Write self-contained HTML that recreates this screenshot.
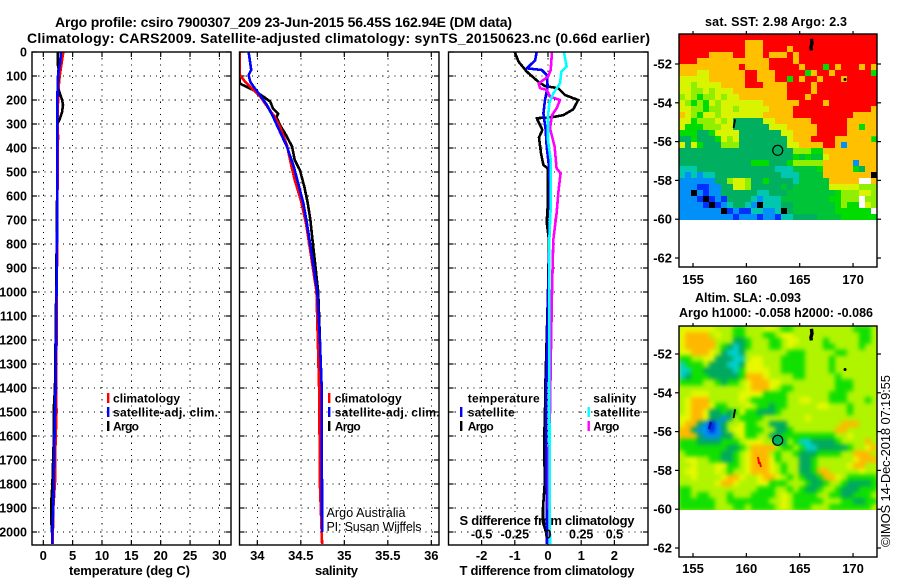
<!DOCTYPE html>
<html>
<head>
<meta charset="utf-8">
<title>Argo profile</title>
<style>
html,body{margin:0;padding:0;background:#fff;}
svg{display:block;font-family:"Liberation Sans",sans-serif;}
text{fill:#000;}
</style>
</head>
<body>
<svg id="chart" xmlns="http://www.w3.org/2000/svg" width="900" height="580" viewBox="0 0 900 580">
<defs>
<clipPath id="clip-sst"><rect x="679" y="34" width="198" height="186"/></clipPath>
<clipPath id="clip-sla"><rect x="679" y="326" width="198" height="184"/></clipPath>
<clipPath id="clip-p1"><rect x="32" y="52" width="199" height="493"/></clipPath>
<clipPath id="clip-p2"><rect x="239.500" y="52" width="199.500" height="493"/></clipPath>
<clipPath id="clip-p3"><rect x="448.500" y="52" width="199.500" height="493"/></clipPath>
<filter id="sla-blur" x="-5%" y="-5%" width="110%" height="110%" color-interpolation-filters="sRGB"><feGaussianBlur stdDeviation="2"/></filter>
</defs>
<text x="55" y="27" font-size="14" font-weight="bold" textLength="457">Argo profile: csiro 7900307_209 23-Jun-2015 56.45S 162.94E (DM data)</text>
<text x="27" y="43" font-size="14" font-weight="bold" textLength="623">Climatology: CARS2009. Satellite-adjusted climatology: synTS_20150623.nc (0.66d earlier)</text>
<text x="69" y="575" font-size="13" font-weight="bold" textLength="121">temperature (deg C)</text>
<text x="315" y="575" font-size="13" font-weight="bold" textLength="43">salinity</text>
<text x="459.500" y="575" font-size="13" font-weight="bold" textLength="175">T difference from climatology</text>
<text x="459.500" y="525" font-size="13" font-weight="bold" textLength="175">S difference from climatology</text>
<text x="705" y="26" font-size="12.500" font-weight="bold" textLength="142">sat. SST: 2.98 Argo: 2.3</text>
<text x="695" y="302" font-size="12.500" font-weight="bold" textLength="106">Altim. SLA: -0.093</text>
<text x="679" y="317" font-size="12.500" font-weight="bold" textLength="194">Argo h1000: -0.058 h2000: -0.086</text>
<text transform="translate(890,547) rotate(-90)" font-size="13" textLength="172">©IMOS 14-Dec-2018 07:19:55</text>
<text x="326.500" y="517" font-size="12.500" fill="#222" textLength="79">Argo Australia</text>
<text x="326.500" y="531" font-size="12.500" fill="#222" textLength="95">PI: Susan Wijffels</text>
</svg>
<script>
// ---------- axis tick values ----------
var depthTicks = [0,100,200,300,400,500,600,700,800,900,1000,1100,1200,1300,1400,1500,1600,1700,1800,1900,2000];
var tempTicks = [0,5,10,15,20,25,30];
var salTicks = [34,34.5,35,35.5,36];
var salTickLabels = ['34','34.5','35','35.5','36'];
var tDiffTicks = [-2,-1,0,1,2];
var sDiffTicks = [-0.5,-0.25,0,0.25,0.5];
var sDiffLabels = ['-0.5','-0.25','0','0.25','0.5'];
var lonTicks = [155,160,165,170];
var latTicks = [-52,-54,-56,-58,-60,-62];

// ---------- temperature panel ----------
var tempClimDepth = [0,50,100,150,200,300,350,600,1000,1400,1500,1540,1700,1790,1900,2050];
var tempClim = [3.4,3.1,2.8,2.6,2.5,2.45,2.5,2.4,2.3,2.2,2.25,2.2,2.0,2.0,1.7,1.6];
var tempSatDepth = [0,40,70,100,130,200,300,600,1000,1400,1600,1900,2000,2050];
var tempSat = [3.0,2.9,2.7,2.5,2.45,2.4,2.4,2.4,2.25,2.1,1.9,1.7,1.55,1.55];
var tempArgoDepth = [0,50,70,150,170,200,220,250,280,300,600,1000,1400,1500,1600,1800,1880,1950,2000];
var tempArgo = [2.45,2.45,2.6,2.45,2.8,3.2,3.35,3.2,2.8,2.4,2.35,2.2,2.0,1.75,1.8,1.55,1.35,1.35,1.5];

// ---------- salinity panel ----------
var salClimDepth = [0,96,124,155,193,228,270,310,388,464,533,617,714,783,1000,1400,1450,1700,1800,2050];
var salClim = [33.8,33.8,33.86,33.95,34.05,34.115,34.2,34.26,34.34,34.385,34.43,34.5,34.56,34.59,34.68,34.71,34.71,34.72,34.72,34.745];
var salSatDepth = [0,47,75,96,124,151,179,221,269,332,394,478,547,631,714,783,1000,1200,1400,2000];
var salSat = [33.9,33.92,33.93,33.9,33.92,33.97,34.03,34.11,34.18,34.26,34.34,34.42,34.47,34.53,34.57,34.6,34.69,34.72,34.74,34.745];
var salArgoDepth = [0,130,135,158,186,207,235,258,270,304,339,394,450,492,561,631,700,769,900,1000,1100,1200,1400,2000];
var salArgo = [33.8,33.8,33.82,33.95,34.07,34.15,34.18,34.24,34.22,34.26,34.32,34.4,34.43,34.49,34.54,34.58,34.61,34.63,34.67,34.7,34.71,34.72,34.735,34.745];

// ---------- difference panel ----------
var dTempSatDepth = [0,35,68,75,96,144,200,256,325,394,478,575,786,1400,2050];
var dTempSat = [-0.34,-0.39,-0.64,-0.19,-0.04,-0.01,-0.09,-0.14,-0.07,-0.04,0.03,0.06,0.04,-0.05,-0.04];
var dTempArgoDepth = [0,40,82,124,142,151,179,200,239,263,272,276,325,356,422,471,485,644,708,786,1000,1400,1500,1600,1800,1900,1960,2000];
var dTempArgo = [-1.0,-0.89,-0.64,-0.29,-0.09,0.31,0.51,0.91,0.76,0.46,0.11,-0.34,-0.17,-0.27,-0.21,-0.14,-0.01,-0.01,-0.04,0.03,0,-0.08,-0.09,-0.11,-0.1,-0.15,-0.15,-0.06];
var dSalSatDepth = [0,61,82,131,172,214,269,367,450,575,644,786,1400,2050];
var dSalSat = [0.12,0.14,0.1,0.09,0.04,0.01,0,0,0.02,0.02,0.02,0.01,0.01,0.015];
var dSalArgoDepth = [0,75,103,131,151,158,186,200,235,263,318,394,485,505,575,672,783,1000,1300,1500,1700,2050];
var dSalArgo = [0.03,0.02,0,-0.07,-0.06,-0.01,0.015,0.09,0.065,0.03,0.015,0.05,0.065,0.095,0.08,0.065,0.04,0.03,0.02,0.015,0.005,0.01];

// ---------- map grids (one character per cell) ----------
var sstRows = [
"rrrrrrrrrrrrrrrrrrrrrrrrrrrrrrrrr",
"rrrrrrrrrrrooorrrrrrrrrrrrrrrrrrr",
"rrrrrrrrrrrooorrrrorrrrrrrrrrrrrr",
"rrrrroooorrooorooororrrrrrrrrrrrr",
"rrroooooooooooorrrrorrrrrrrrrrrrr",
"ooooooooooroooorrrrrorrrgrorrroro",
"oooyyoooooorrooorrrrrgorrorrrrrrg",
"yyyyyoooooorrooorrgrorrorrrorrrrr",
"yylyyyyoooorrroooorrrrorrrrrrrrrr",
"yyllylyyyooooooooorrrrorrrrrrrrrr",
"lylgllylyyoooooooorrrorrrrrrrrrrr",
"ylglgylyyyyyyyoooooorrrrorrrrrrrr",
"yyllgllyylyyyyyoooorrrrrrrrrrrrro",
"oylgyylyyyyyyyooooorrrrrrrrrrooooo",
"yyglllylytttttyyoooooorrrrrrooooo",
"yggglllyyttttttyyyooooorrrrroogoo",
"gggttgyyyytttttttyyoooorrrrrooooo",
"ttgtttgylyttttttttyooorrrroooooo",
"ytygtttlllttttttttyyoooorroboooooo",
"tttttttttttttttttttlllggooooooooo",
"tttttttttttttttttttgdgddyooooooooo",
"ttttttttttttgggtttgllllloooooboooo",
"ccctttttttttttttcccddddgooooogtoooo",
"cbcbcctttttttttttcccddddooooooooKoy",
"bbbbbbttlyylttgttttcdddddoooooWWoyy",
"bbbBBbbttyyltttttdtddddddyyyyylllyyl",
"bbKbBbbttttttcctttddddddddglllyyll",
"bbbBKBbBttttcbcccddddddddgglllWlll",
"bbbbBKBbcttcbKcccttdddddddglggWylgl",
"bbbbbbbKBbBBccbbcKtdddddddggggggWl",
"bbbbbbbbbBbbbBbbBccttttddddggggggl"
];
var slaRows = [
"yyyyyylllgglllyylggllllllllllgggl",
"yoooolyllgglllgglyylllllllllllggl",
"yooooolllttglllgglyyllllglllllggl",
"yooooolgtctglllgglylllllggllllgll",
"yyoooyltcctlllllllggglllllgglllll",
"ggllyytttcclyylllggggllllglllllll",
"cgggltttcctyyylllggggllllgllllll",
"ccggtttttcgyyyyllggggllllglllll",
"ctgggtttttgoooyllllgglllllgllllll",
"ggggllgtgglyoooyylllllllllggglll",
"lllllllllllyoooylgglllllllggglll",
"llyyylllllyyyygggglllllllggglll",
"lyooolllllylggggggllyylllggglllg",
"lyoooygglllylggtgglllllyylllgllll",
"lyooyttgtgyggtttglllllllllllgllll",
"yyooyttbtlgggglllllllylllllllll",
"yootbBbtllygglltttlllllllllooolll",
"ootbbBbtlyygggllttgllllllloolllll",
"oootbbbttlyggllttgggggggggllyllll",
"gggttttggglyyyllttlgccttttglllloll",
"ggggggggttgloooolgglgcctttttgllyoyl",
"lggggggttglyooolgllgtttggggllooolx",
"lyyllggttglyoooyglllttgllllllyooool",
"llylllyygglyoooylgllttglllllyooll",
"lyylllylgllyoooylgllttgoolllllyll",
"llyllllyooyllyooylglgttgooylgggggll",
"llllllyooylllyyggglllgttgllgttttgggl",
"gglllllllllllgggllglgttgllgtttgggl",
"gglgglllglllgggglylggggllggttgggl",
"ggggggllgggggggllylggggglllggttggl",
"gggggglllgglgggglylggglllgggggggl"
];

// ---------- track marks on the maps ----------
var trackLons = [166.1,166.15,166.05,166.1];
var trackLatsSst = [-50.7,-50.95,-51.15,-51.3];
var track2Lons = [158.8,158.95];
var track2LatsSst = [-55.3,-54.85];

// ---------- colours ----------
var sstPalette = {r:'#ff0000',o:'#ffc000',y:'#d8f400',l:'#90ee00',g:'#00dc00',d:'#00c438',t:'#00b060',c:'#00c8b0',b:'#0090f8',B:'#0030ff',K:'#000000',W:'#ffffff'};
var slaPalette = {o:'#ffb800',y:'#e8f800',l:'#b0f400',g:'#10e000',t:'#00a860',c:'#00d0d0',b:'#0090f0',B:'#0020e0',r:'#ff2000',x:'#b0f400'};

// ---------- scales ----------
var depthY = function(d){ return 52 + d * 0.24; };
var tempX = function(v){ return 43.3 + v * 5.87; };
var salX = function(v){ return 257.3 + (v - 34) * 87; };
var tDiffX = function(v){ return 548 + v * 33.2; };
var sDiffX = function(v){ return 548 + v * 132.8; };
var lonX = function(v){ return 693 + (v - 155) * 10.67; };
var sstLatY = function(v){ return 64 + (-52 - v) * 19.4; };
var slaLatY = function(v){ return 354 + (-52 - v) * 19.4; };

var svg = document.getElementById('chart');
var NS = 'http://www.w3.org/2000/svg';
function make(tag, parent, props){
  var el = document.createElementNS(NS, tag);
  for (var k in props) { el.setAttribute(k, props[k]); }
  parent.appendChild(el);
  return el;
}

function drawSeries(depths, values, xScale, color, name, clip){
  var pts = depths.map(function(d, i){ return xScale(values[i]).toFixed(1) + ',' + depthY(d).toFixed(1); }).join(' ');
  var el = make('polyline', svg, {points: pts, fill: 'none', stroke: color, 'stroke-width': 2.6, 'clip-path': 'url(#' + clip + ')', 'stroke-linejoin': 'round', 'shape-rendering': 'crispEdges'});
  
  
}

function drawPanel(left, right, xTicks, xScale, xLabels, panelName, showDepthLabels){
  var g = make('g', svg, {});
  
  
  depthTicks.forEach(function(d){
    if (d > 0) {
      var gl = make('line', g, {x1: left, x2: right, y1: depthY(d), y2: depthY(d), stroke: '#000', 'stroke-width': 1, 'stroke-dasharray': '1.2 5', 'shape-rendering': 'crispEdges'});
      
      
    }
    var t1 = make('line', g, {x1: left, x2: left + 5, y1: depthY(d), y2: depthY(d), stroke: '#000', 'stroke-width': 1.2});
    
    
    var t2 = make('line', g, {x1: right - 5, x2: right, y1: depthY(d), y2: depthY(d), stroke: '#000', 'stroke-width': 1.2});
    
    
    if (showDepthLabels) {
      var lab = make('text', g, {x: 27, y: depthY(d) + 4.5, 'text-anchor': 'end', 'font-size': 12.5, 'font-weight': 'bold'});
      lab.textContent = String(d);
      
      
    }
  });
  xTicks.forEach(function(v, i){
    var x = xScale(v);
    var gl = make('line', g, {x1: x, x2: x, y1: 52, y2: 545, stroke: '#000', 'stroke-width': 1, 'stroke-dasharray': '1.2 5', 'shape-rendering': 'crispEdges'});
    
    
    var tb = make('line', g, {x1: x, x2: x, y1: 540, y2: 545, stroke: '#000', 'stroke-width': 1.2});
    
    
    var tt = make('line', g, {x1: x, x2: x, y1: 52, y2: 57, stroke: '#000', 'stroke-width': 1.2});
    
    
    var lab = make('text', g, {x: x, y: 560, 'text-anchor': 'middle', 'font-size': 13, 'font-weight': 'bold'});
    lab.textContent = xLabels[i];
    
    
  });
  return g;
}

function drawFrame(left, top, w, h, name){
  var r = make('rect', svg, {x: left, y: top, width: w, height: h, fill: 'none', stroke: '#000', 'stroke-width': 1.4});
  
  
}

function legendEntry(barX, textX, cy, color, label, width){
  if (color) {
    var b = make('rect', svg, {x: barX, y: cy - 5, width: 2.4, height: 10, fill: color});
    
    
  }
  var t = make('text', svg, {x: textX, y: cy + 4.5, 'font-size': 12, 'font-weight': 'bold', textLength: width});
  t.textContent = label;
  
  
}

function drawMap(rows, palette, top, height, bg, clip, blur, name){
  var outer = make('g', svg, {'clip-path': 'url(#' + clip + ')'});
  
  
  var base = make('rect', outer, {x: 679, y: top, width: 198, height: height, fill: bg});
  
  
  var g = make('g', outer, blur ? {filter: 'url(#sla-blur)'} : {});
  var cw = 198 / 33;
  var ch = height / rows.length;
  rows.forEach(function(row, r){
    for (var c = 0; c < row.length; c++) {
      var cell = make('rect', g, {x: 679 + c * cw, y: top + r * ch, width: cw + 0.3, height: ch + 0.3, fill: palette[row[c]]});
      
      
    }
  });
}

function drawMapAxes(top, bottom, latY, labelY, suffix){
  lonTicks.forEach(function(v){
    var x = lonX(v);
    var t1 = make('line', svg, {x1: x, x2: x, y1: bottom - 4, y2: bottom, stroke: '#000', 'stroke-width': 1.2});
    
    
    var t2 = make('line', svg, {x1: x, x2: x, y1: top - 3, y2: top, stroke: '#000', 'stroke-width': 1.2});
    
    
    var lab = make('text', svg, {x: x, y: labelY, 'text-anchor': 'middle', 'font-size': 13, 'font-weight': 'bold'});
    lab.textContent = String(v);
    
    
  });
  latTicks.forEach(function(v){
    var y = latY(v);
    var t1 = make('line', svg, {x1: 675, x2: 679, y1: y, y2: y, stroke: '#000', 'stroke-width': 1.2});
    
    
    var t2 = make('line', svg, {x1: 877, x2: 881, y1: y, y2: y, stroke: '#000', 'stroke-width': 1.2});
    
    
    var lab = make('text', svg, {x: 672, y: y + 4.5, 'text-anchor': 'end', 'font-size': 13, 'font-weight': 'bold'});
    lab.textContent = String(v);
    
    
  });
}

function drawTracks(latY, suffix){
  var a = trackLons.map(function(v, i){ return lonX(v) + ',' + latY(trackLatsSst[i]); }).join(' ');
  var t1 = make('polyline', svg, {points: a, fill: 'none', stroke: '#000', 'stroke-width': 3.4});
  
  
  var b = track2Lons.map(function(v, i){ return lonX(v) + ',' + latY(track2LatsSst[i]); }).join(' ');
  var t2 = make('polyline', svg, {points: b, fill: 'none', stroke: '#000', 'stroke-width': 1.8});
  
  
  var s = make('circle', svg, {cx: lonX(169.25), cy: latY(-52.8), r: 1.5, fill: '#000'});
  
  
}

// ---------- panels ----------
drawPanel(32, 231, tempTicks, tempX, tempTicks.map(String), 'temperature-panel', true);
drawPanel(239.5, 439, salTicks, salX, salTickLabels, 'salinity-panel', false);
drawPanel(448.5, 648, tDiffTicks, tDiffX, tDiffTicks.map(String), 'difference-panel', false);

drawSeries(tempClimDepth, tempClim, tempX, '#ff0000', 'temperature-climatology-line', 'clip-p1');
drawSeries(tempArgoDepth, tempArgo, tempX, '#000000', 'temperature-argo-line', 'clip-p1');
drawSeries(tempSatDepth, tempSat, tempX, '#0000ff', 'temperature-satellite-line', 'clip-p1');

drawSeries(salArgoDepth, salArgo, salX, '#000000', 'salinity-argo-line', 'clip-p2');
drawSeries(salClimDepth, salClim, salX, '#ff0000', 'salinity-climatology-line', 'clip-p2');
drawSeries(salSatDepth, salSat, salX, '#0000ff', 'salinity-satellite-line', 'clip-p2');

drawSeries(dTempArgoDepth, dTempArgo, tDiffX, '#000000', 't-difference-argo-line', 'clip-p3');
drawSeries(dTempSatDepth, dTempSat, tDiffX, '#0000ff', 't-difference-satellite-line', 'clip-p3');
drawSeries(dSalArgoDepth, dSalArgo, sDiffX, '#ff00ff', 's-difference-argo-line', 'clip-p3');
drawSeries(dSalSatDepth, dSalSat, sDiffX, '#00ffff', 's-difference-satellite-line', 'clip-p3');

drawFrame(32, 52, 199, 493, 'temperature-panel-frame');
drawFrame(239.5, 52, 199.5, 493, 'salinity-panel-frame');
drawFrame(448.5, 52, 199.5, 493, 'difference-panel-frame');

// S difference labels
sDiffTicks.forEach(function(v, i){
  var lab = make('text', svg, {x: sDiffX(v), y: 538.5, 'text-anchor': 'middle', 'font-size': 12.5, 'font-weight': 'bold'});
  lab.textContent = sDiffLabels[i];
  
  
});

// legends
legendEntry(107, 113, 398, '#ff0000', 'climatology', 67);
legendEntry(107, 113, 412, '#0000ff', 'satellite-adj. clim.', 105);
legendEntry(107, 113, 426, '#000000', 'Argo', 26);
legendEntry(328, 334.7, 398, '#ff0000', 'climatology', 67);
legendEntry(328, 334.7, 412, '#0000ff', 'satellite-adj. clim.', 105);
legendEntry(328, 334.7, 426, '#000000', 'Argo', 26);
legendEntry(0, 467.7, 398, null, 'temperature', 72);
legendEntry(460, 467.7, 412, '#0000ff', 'satellite', 47);
legendEntry(460, 467.7, 426, '#000000', 'Argo', 26);
legendEntry(0, 593.3, 398, null, 'salinity', 43);
legendEntry(587.5, 593.3, 412, '#00ffff', 'satellite', 47);
legendEntry(587.5, 593.3, 426, '#ff00ff', 'Argo', 26);

// ---------- maps ----------
drawMap(sstRows, sstPalette, 34, 186, '#00dc00', 'clip-sst', false, 'sst-map');
drawMap(slaRows, slaPalette, 326, 184, '#b0f400', 'clip-sla', true, 'sla-map');

drawTracks(sstLatY, 'sst');
drawTracks(slaLatY, 'sla');

var blueCore = make('line', svg, {x1: 709, y1: 429, x2: 711, y2: 422, stroke: '#0010b0', 'stroke-width': 2.4});


var redCore = make('polyline', svg, {points: '758,457 759,463 760,463 761,467', fill: 'none', stroke: '#ff0000', 'stroke-width': 2});



var c1 = make('circle', svg, {cx: lonX(162.94), cy: sstLatY(-56.45), r: 5, fill: 'none', stroke: '#000', 'stroke-width': 1.2});


var c2 = make('circle', svg, {cx: lonX(162.94), cy: slaLatY(-56.45), r: 5, fill: '#00b060', stroke: '#000', 'stroke-width': 1.2});



drawMapAxes(34, 267, sstLatY, 284, 'sst');
drawMapAxes(326, 557, slaLatY, 573, 'sla');
drawFrame(679, 34, 198, 233, 'sst-map-frame');
drawFrame(679, 326, 198, 231, 'sla-map-frame');
</script>
</body>
</html>
